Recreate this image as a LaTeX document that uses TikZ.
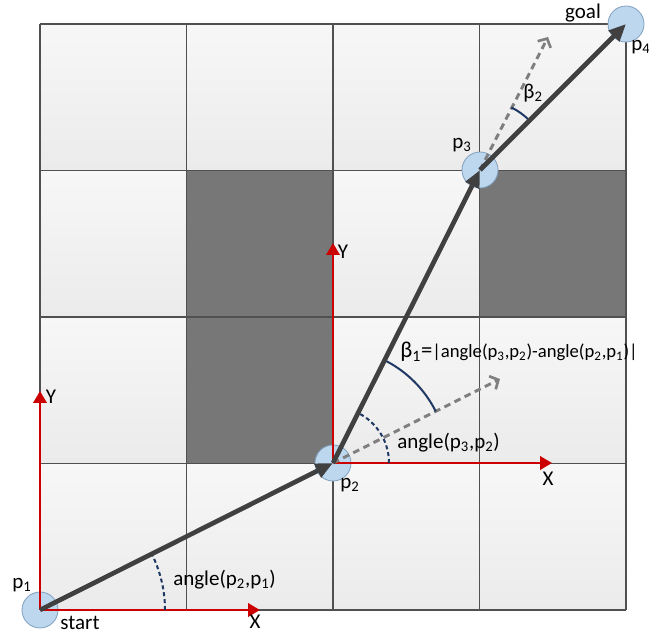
\documentclass[tikz,border=0pt]{standalone}
\usepackage{fontspec}
\setmainfont{Carlito}
\usetikzlibrary{arrows.meta}
\definecolor{cellTop}{HTML}{F7F7F7}
\definecolor{cellBot}{HTML}{EBEBEB}
\definecolor{darkcell}{HTML}{777777}
\definecolor{gridline}{HTML}{505050}
\definecolor{axisred}{HTML}{CC0000}
\definecolor{pathgrey}{HTML}{404040}
\definecolor{dashgrey}{HTML}{7F7F7F}
\definecolor{arcblue}{HTML}{1F3864}
\definecolor{ptfill}{HTML}{BDD7EE}
\definecolor{ptdraw}{HTML}{7FA0C0}
\tikzset{
  lbl/.style={font=\fontsize{15.75}{18}\selectfont, inner sep=0pt},
  ptnode/.style={circle, minimum size=27pt, inner sep=0pt, fill=ptfill, draw=ptdraw, line width=0.6pt},
  pathseg/.style={draw=pathgrey, line width=3.5pt, -{Triangle[length=13pt,width=11pt]}},
  axis/.style={draw=axisred, line width=2pt, -{Triangle[length=9pt,width=10pt]}},
  extline/.style={draw=dashgrey, line width=2.2pt, dash pattern=on 5pt off 3.5pt, -{Straight Barb[length=5pt,width=11pt,line width=2pt]}},
  anglearc/.style={draw=arcblue, line width=1.5pt},
  anglearcdash/.style={draw=arcblue, line width=1.5pt, dash pattern=on 3pt off 2.2pt},
  cell/.style={top color=cellTop, bottom color=cellBot},
}
\newcommand{\sbs}[1]{\textsubscript{#1}}
\begin{document}
\begin{tikzpicture}[x=0.75pt,y=0.75pt]
\useasboundingbox (0,0) rectangle (649,635);
% cells
\foreach \i in {0,1,2,3}{
  \foreach \j in {0,1,2,3}{
    \shade[cell] ({40+146.5*\i},{25+146.5*\j}) rectangle ++(146.5,146.5);
  }
}
\fill[darkcell] (186.5,318) rectangle ++(146.5,146.5);
\fill[darkcell] (479.5,318) rectangle ++(146.5,146.5);
\fill[darkcell] (186.5,171.5) rectangle ++(146.5,146.5);
% grid lines
\foreach \k in {0,1,2,3,4}{
  \draw[gridline, line width=1pt] ({40+146.5*\k},25) -- ({40+146.5*\k},611);
  \draw[gridline, line width=1pt] (40,{25+146.5*\k}) -- (626,{25+146.5*\k});
}
% points
\node[ptnode] (p1) at (40,25) {};
\node[ptnode] (p2) at (333,172) {};
\node[ptnode] (p3) at (480,465) {};
\node[ptnode] (p4) at (626,611) {};
% axes
\coordinate (y1) at (40,244);
\coordinate (x1) at (260,25);
\coordinate (y2) at (333,392);
\coordinate (x2) at (552,172);
\draw[axis] (p1.center) -- (y1);
\draw[axis] (p1.center) -- (x1);
\draw[axis] (p2.center) -- (y2);
\draw[axis] (p2.center) -- (x2);
% extension dashed arrows
\coordinate (d1) at (500,256);
\coordinate (d2) at (548,598);
\draw[extline] (p2.center) -- (d1);
\draw[extline] (p3.center) -- (d2);
% angle arcs
\draw[anglearcdash] (p1.center) ++(0:125) arc (0:26.64:125);
\draw[anglearcdash] (p2.center) ++(0:56) arc (0:63.36:56);
\draw[anglearc] (p2.center) ++(26.64:115) arc (26.64:63.36:115);
\draw[anglearc] (p3.center) ++(45:70) arc (45:63.36:70);
% path
\draw[pathseg] (p1.center) -- (p2.center);
\draw[pathseg] (p2.center) -- (p3.center);
\draw[pathseg] (p3.center) -- (p4.center);
% labels
\node[lbl] (lp1) at (22,50) {p\sbs{1}};
\node[lbl] (lstart) at (80,12) {start};
\node[lbl] (lx1) at (255,13) {X};
\node[lbl] (ly1) at (51,238) {Y};
\node[lbl] (ly2) at (343,383) {Y};
\node[lbl] (lx2) at (548,156) {X};
\node[lbl] (lp2) at (350,150) {p\sbs{2}};
\node[lbl] (lp3) at (462,490) {p\sbs{3}};
\node[lbl] (lp4) at (641,588) {p\sbs{4}};
\node[lbl] (lgoal) at (583,622) {goal};
\node[lbl] (lb2) at (533,542) {β\sbs{2}};
\node[lbl, anchor=west] (la1) at (173,55) {angle(p\sbs{2},p\sbs{1})};
\node[lbl, anchor=west] (la2) at (397,192) {angle(p\sbs{3},p\sbs{2})};
\node[lbl, anchor=west] (lb1) at (400,283) {{\fontsize{17}{18}\selectfont β\sbs{1}=}{\fontsize{14}{16}\selectfont |angle(p\sbs{3},p\sbs{2})-angle(p\sbs{2},p\sbs{1})|}};
\end{tikzpicture}
\end{document}
